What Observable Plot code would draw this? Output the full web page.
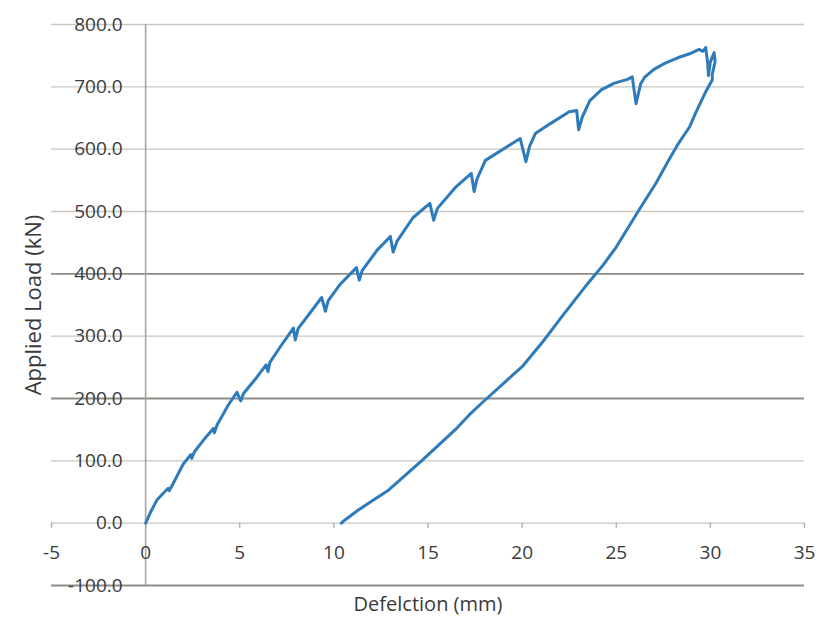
<!DOCTYPE html>
<html>
<head>
<meta charset="utf-8">
<script src="https://cdn.jsdelivr.net/npm/d3@7"></script>
<script src="https://cdn.jsdelivr.net/npm/@observablehq/plot@0.6"></script>
<style>
  html, body { margin: 0; padding: 0; background: #fff; }
</style>
</head>
<body>
<div id="chart"></div>
<script>
// Load–deflection curve (loading with saw-tooth drops, then unloading)
const deflection = [
  0, 0.3, 0.6, 1.0, 1.2, 1.25, 1.4, 2.0, 2.4, 2.45, 2.6, 3.2, 3.6, 3.65, 3.8, 4.4, 4.85, 5.05, 5.2,
  5.8, 6.4, 6.5, 6.6, 7.2, 7.85, 7.95, 8.1, 8.8, 9.35, 9.55, 9.7, 10.3, 11.2, 11.35, 11.5,
  12.3, 13.0, 13.15, 13.35, 14.2, 15.1, 15.3, 15.5, 16.5, 17.3, 17.45, 17.6, 18.05, 19.3, 19.9, 20.2, 20.4,
  20.7, 21.5, 22.5, 22.9, 23.0, 23.2, 23.6, 24.2, 24.9, 25.6, 25.85, 26.05, 26.3, 26.5, 27.0, 27.6, 28.3,
  28.9, 29.4, 29.6, 29.75, 29.85, 29.9, 30.0, 30.2, 30.25, 30.1,
  30.1, 29.75, 29.2, 28.9, 28.3, 27.8, 27.1, 26.2, 25.0, 24.3, 23.5, 22.1, 21.1, 20.0, 19.0, 18.05,
  17.2, 16.45, 14.7, 13.8, 12.9, 12.0, 11.3, 10.5, 10.4
];
const load = [
  0, 20, 37, 50, 56, 52, 60, 95, 110, 104, 115, 138, 152, 145, 158, 190, 210, 196, 208,
  230, 254, 243, 258, 285, 313, 294, 312, 340, 362, 340, 357, 382, 410, 390, 405,
  438, 460, 435, 452, 490, 513, 486, 505, 540, 561, 532, 552, 582, 606, 617, 580, 605,
  625, 641, 660, 662, 631, 652, 678, 695, 706, 712, 716, 673, 705, 715, 728, 738, 747,
  753, 760, 757, 763, 740, 718, 740, 755, 740, 720,
  711, 692, 657, 636, 609, 583, 545, 502, 443, 414, 385, 331, 291, 251, 224, 198,
  174, 150, 101, 77, 53, 35, 21, 3, 0
];
const xTicks = [-5, 0, 5, 10, 15, 20, 25, 30, 35];
const yTicks = [-100, 0, 100, 200, 300, 400, 500, 600, 700, 800];
const yTicksDark = [-100, 200, 400];
const xTitle = "Defelction (mm)";
const yTitle = "Applied Load (kN)";

const points = deflection.map((d, i) => ({deflection: d, load: load[i]}));

const font = "'Open Sans', 'DejaVu Sans', sans-serif";
const textColor = "#3a3a3a";

const chart = Plot.plot({
  width: 827,
  height: 620,
  marginLeft: 51,
  marginRight: 23,
  marginTop: 24,
  marginBottom: 35,
  style: {fontFamily: font, background: "#fff"},
  x: {domain: [-5, 35], axis: null},
  y: {domain: [-100, 800], axis: null},
  marks: [
    Plot.ruleY(yTicks.filter(d => !yTicksDark.includes(d)), {y: d => d, stroke: "#c9c6c0", strokeWidth: 1.3}),
    Plot.ruleY(yTicksDark, {y: d => d, stroke: "#8f8b85", strokeWidth: 1.8}),
    Plot.ruleX([0], {x: d => d, stroke: "#aaa59e", strokeWidth: 1.6}),
    Plot.ruleX(xTicks, {x: d => d, y1: 0, y2: 0, insetBottom: -5, stroke: "#aaa59e", strokeWidth: 1.3}),
    Plot.line(points, {x: "deflection", y: "load", stroke: "#2e7bbb", strokeWidth: 3, strokeLinejoin: "round", strokeLinecap: "round"}),
    Plot.text(yTicks, {x: 0, y: d => d, text: d => d.toFixed(1), textAnchor: "end", dx: -23, fontSize: 19, fill: textColor}),
    Plot.text(xTicks, {x: d => d, y: 0, text: d => String(d), dy: 30, fontSize: 19, fill: textColor}),
    Plot.text([xTitle], {frameAnchor: "bottom", text: d => d, lineAnchor: "middle", textAnchor: "middle", dy: 19, fontSize: 20, fill: textColor}),
    Plot.text([yTitle], {frameAnchor: "left", text: d => d, rotate: -90, textAnchor: "middle", lineAnchor: "middle", dx: -18, fontSize: 22, fill: textColor})
  ]
});
document.getElementById("chart").appendChild(chart);
</script>
</body>
</html>
